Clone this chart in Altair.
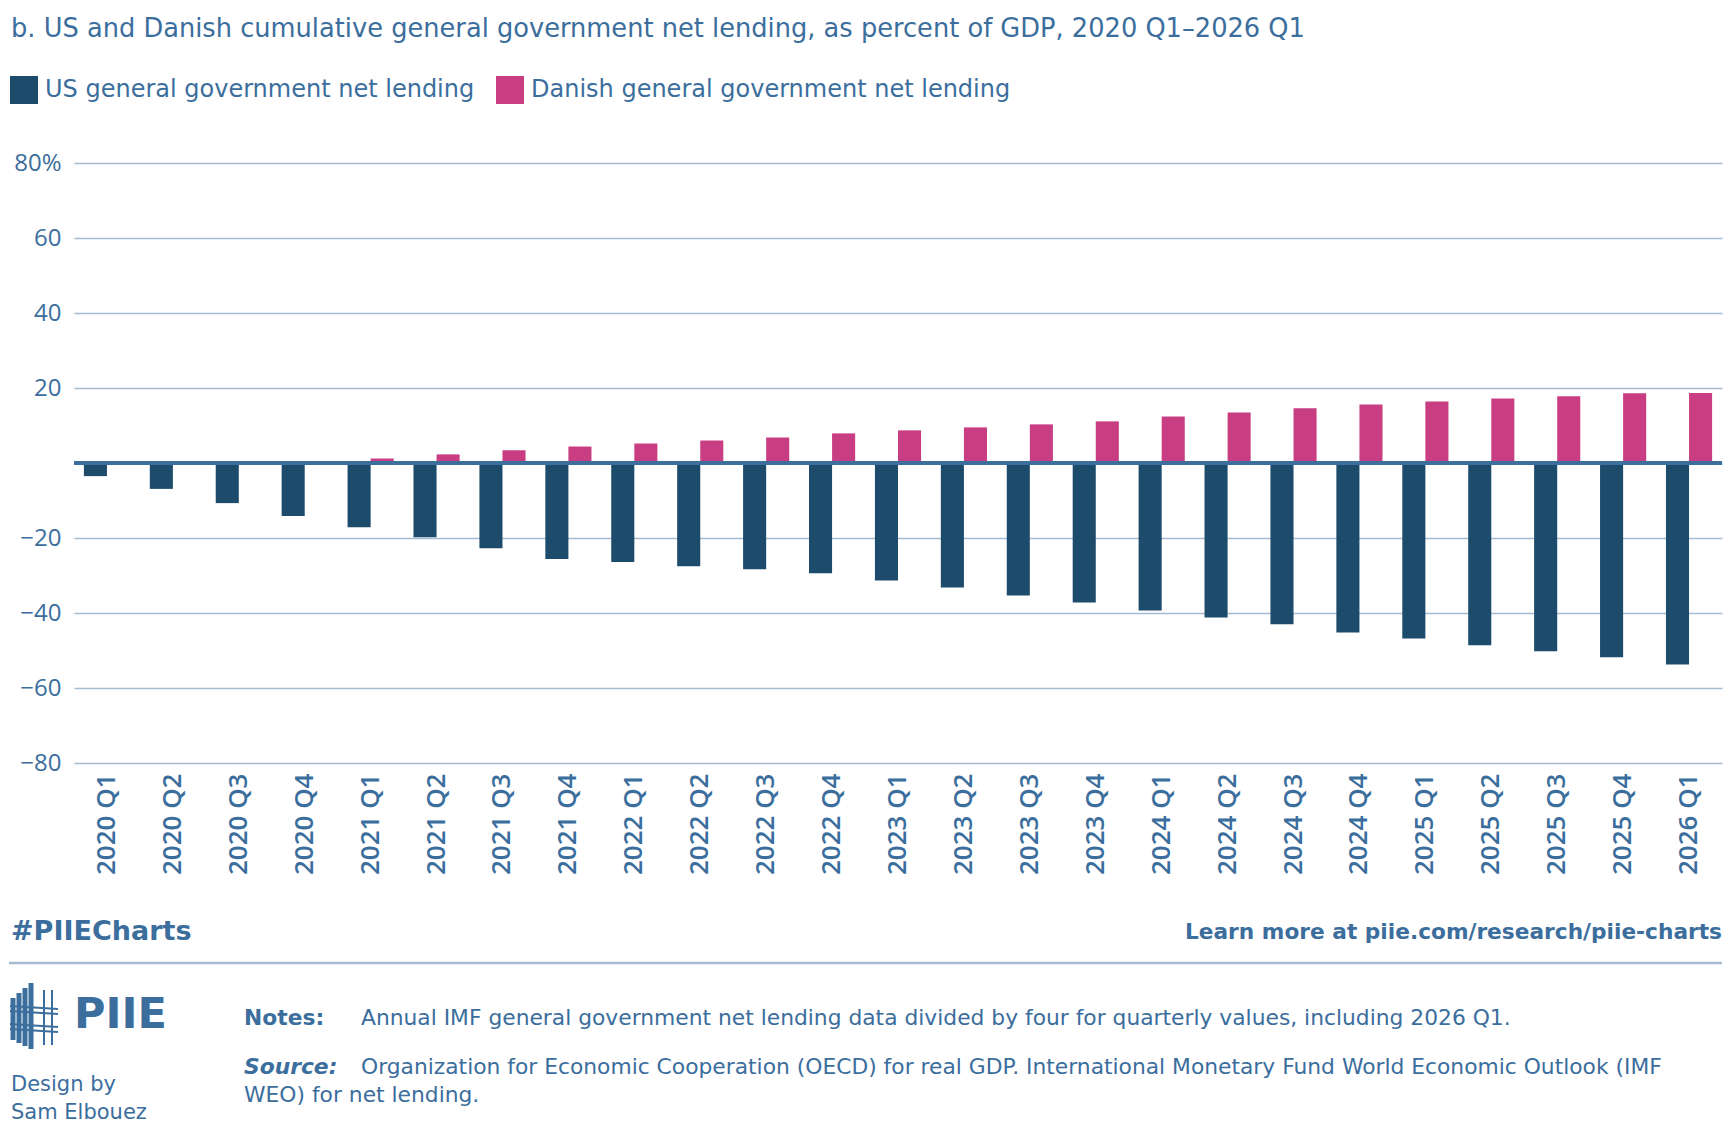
import pandas as pd
import altair as alt

FONT = "DejaVu Sans"
AXIS_FONT = "Open Sans"
TEXT_BLUE = "#3b6e9d"
GRID_BLUE = "#a3bcd1"
ZERO_BLUE = "#3c6f9c"
NAVY = "#1c4b6c"
PINK = "#c93e82"

quarters = [
    "2020 Q1", "2020 Q2", "2020 Q3", "2020 Q4",
    "2021 Q1", "2021 Q2", "2021 Q3", "2021 Q4",
    "2022 Q1", "2022 Q2", "2022 Q3", "2022 Q4",
    "2023 Q1", "2023 Q2", "2023 Q3", "2023 Q4",
    "2024 Q1", "2024 Q2", "2024 Q3", "2024 Q4",
    "2025 Q1", "2025 Q2", "2025 Q3", "2025 Q4",
    "2026 Q1",
]
us_lending = [
    -3.5, -6.9, -10.7, -14.1, -17.1, -19.8, -22.7, -25.6,
    -26.4, -27.5, -28.3, -29.4, -31.3, -33.2, -35.3, -37.2,
    -39.3, -41.2, -43.0, -45.2, -46.8, -48.6, -50.2, -51.8,
    -53.7,
]
dk_lending = [
    0.0, 0.0, 0.0, 0.0, 1.2, 2.3, 3.4, 4.4,
    5.2, 6.0, 6.8, 7.9, 8.7, 9.5, 10.3, 11.1,
    12.4, 13.5, 14.6, 15.6, 16.4, 17.2, 17.8, 18.6,
    18.7,
]
series_names = ["US general government net lending",
                "Danish general government net lending"]
y_ticks = [-80, -60, -40, -20, 0, 20, 40, 60, 80]

title_text = ("b. US and Danish cumulative general government net lending, "
              "as percent of GDP, 2020 Q1\u20132026 Q1")
notes_text = ("Annual IMF general government net lending data divided by four "
              "for quarterly values, including 2026 Q1.")
source_line1 = ("Organization for Economic Cooperation (OECD) for real GDP. "
                "International Monetary Fund World Economic Outlook (IMF")
source_line2 = "WEO) for net lending."

df = pd.DataFrame({
    "quarter": quarters + quarters,
    "series": [series_names[0]] * len(quarters) + [series_names[1]] * len(quarters),
    "value": us_lending + dk_lending,
})

W, H = 1648, 600

bars = alt.Chart(df).mark_bar().encode(
    x=alt.X("quarter:N", sort=quarters,
            scale=alt.Scale(paddingInner=0.3, paddingOuter=0.15),
            axis=alt.Axis(title=None, labelAngle=270, labelFontSize=26,
                          labelFontWeight=600, labelColor=TEXT_BLUE,
                          labelFont=AXIS_FONT, labelPadding=10, ticks=False,
                          domain=False, grid=False)),
    xOffset=alt.XOffset("series:N", sort=series_names,
                        scale=alt.Scale(paddingInner=0, paddingOuter=0)),
    y=alt.Y("value:Q", scale=alt.Scale(domain=[-80, 80], nice=False),
            axis=alt.Axis(title=None, values=y_ticks,
                          labelExpr="datum.value == 0 ? '' : (datum.value == 80 ? '80%' : datum.label)",
                          labelFontSize=24, labelColor=TEXT_BLUE, labelFont=AXIS_FONT,
                          labelPadding=13, grid=True, gridColor=GRID_BLUE,
                          gridWidth=1.5, domain=False, ticks=False)),
    color=alt.Color("series:N", sort=series_names,
                    scale=alt.Scale(domain=series_names, range=[NAVY, PINK]),
                    legend=alt.Legend(title=None, orient="none", legendX=-64,
                                      legendY=-87, direction="horizontal",
                                      symbolType="square", symbolSize=784,
                                      symbolStrokeWidth=0, symbolOpacity=1,
                                      labelFontSize=24, labelFont=FONT,
                                      labelColor=TEXT_BLUE,
                                      labelOffset=7, columnPadding=21,
                                      padding=0, labelLimit=0)),
)

one = alt.Data(values=[{}])

zero_line = alt.Chart(one).mark_rule(color=ZERO_BLUE, strokeWidth=4).encode(
    y=alt.datum(0)
)


def label(text, x, y, size, weight="normal", align="left", style="normal"):
    return alt.Chart(one).mark_text(
        text=text, align=align, baseline="middle", fontSize=size,
        fontWeight=weight, fontStyle=style, font=FONT, color=TEXT_BLUE
    ).encode(x=alt.value(x), y=alt.value(y))


def rule(x1, x2, y1, y2, width, color=TEXT_BLUE):
    return alt.Chart(one).mark_rule(color=color, strokeWidth=width).encode(
        x=alt.value(x1), x2=alt.value(x2), y=alt.value(y1), y2=alt.value(y2)
    )


texts = [
    label(title_text, -63, -134, 25.7),
    label("#PIIECharts", -63, 769, 27, weight="bold"),
    label("Learn more at piie.com/research/piie-charts", W, 769, 21.7,
          weight="bold", align="right"),
    label("PIIE", 0, 852, 43, weight="bold"),
    label("Notes:", 170, 855, 21.8, weight="bold"),
    label(notes_text, 287, 855, 21.8),
    label("Source:", 170, 904, 21.8, weight="bold", style="italic"),
    label(source_line1, 287, 904, 21.8),
    label(source_line2, 170, 932, 21.8),
    label("Design by", -63, 922, 21),
    label("Sam Elbouez", -63, 950, 21),
]

# footer separator and a simple sketch of the logo mark
footer_rule = rule(-65, W, 800, 800, 2.5, color=GRID_BLUE)
logo = [
    rule(-61, -61, 835, 877, 5), rule(-55, -55, 830, 880, 5),
    rule(-49, -49, 825, 883, 5), rule(-43, -43, 820, 886, 5),
    rule(-30, -30, 827, 882, 2), rule(-22, -22, 827, 882, 2),
    rule(-64, -16, 843, 846, 2), rule(-64, -16, 848, 851, 2),
    rule(-64, -16, 861, 864, 2), rule(-64, -16, 866, 869, 2),
]

chart = alt.layer(bars, zero_line, footer_rule, *logo, *texts).properties(
    width=W, height=H,
    autosize=alt.AutoSizeParams(type="none"),
    padding={"left": 66, "top": 155, "right": 2, "bottom": 367},
).configure_view(stroke=None)

chart.save("out.html", embed_options={"renderer": "svg", "actions": False})
